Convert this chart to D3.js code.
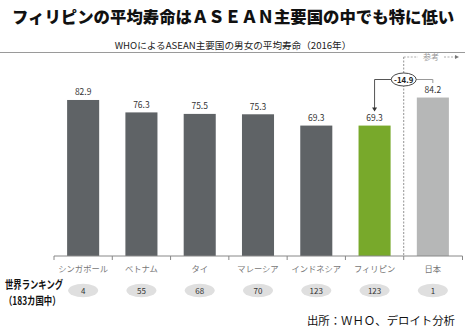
<!DOCTYPE html>
<html><head><meta charset="utf-8">
<script src="https://cdn.jsdelivr.net/npm/d3@7"></script>
<style>body{margin:0;background:#fff}svg{display:block;font-family:"Noto Sans CJK JP","Noto Sans",sans-serif}</style>
</head><body><svg id="c" width="465" height="331"></svg>
<script>
const categories = ["シンガポール","ベトナム","タイ","マレーシア","インドネシア","フィリピン","日本"];
const lifeExpectancy = [82.9, 76.3, 75.5, 75.3, 69.3, 69.3, 84.2];
const worldRanking = ["4","55","68","70","123","123","1"];
const gapLabel = "-14.9";
const colors = ["#5f6366","#5f6366","#5f6366","#5f6366","#5f6366","#78a92b","#b6b7b7"];

const svg = d3.select("#c");
const x = d3.scaleBand().domain(categories).range([54, 462]).paddingInner(0.45).paddingOuter(0.225);
const y = d3.scaleLinear().domain([0, 100]).range([256, 67.8]);

// title
svg.append("text").attr("x", 12).attr("y", 23).attr("font-size", 16.4).attr("font-weight", 900)
  .attr("fill", "#111").text("フィリピンの平均寿命はＡＳＥＡＮ主要国の中でも特に低い");
svg.append("text").attr("x", 233).attr("y", 48.5).attr("text-anchor", "middle").attr("font-size", 9.6)
  .attr("fill", "#222").text("WHOによるASEAN主要国の男女の平均寿命（2016年）");
svg.append("line").attr("x1", 0).attr("x2", 465).attr("y1", 52.5).attr("y2", 52.5).attr("stroke", "#9a9a9a").attr("stroke-width", 1);

// bars
svg.selectAll("rect.bar").data(categories).join("rect").attr("class", "bar")
  .attr("x", d => x(d)).attr("width", x.bandwidth())
  .attr("y", (d, i) => y(lifeExpectancy[i])).attr("height", (d, i) => y(0) - y(lifeExpectancy[i]))
  .attr("fill", (d, i) => colors[i]);
svg.selectAll("text.val").data(categories).join("text").attr("class", "val")
  .attr("x", d => x(d) + x.bandwidth() / 2).attr("y", (d, i) => y(lifeExpectancy[i]) - 4.5)
  .attr("text-anchor", "middle").attr("font-size", 8.5).attr("fill", "#333")
  .text((d, i) => lifeExpectancy[i].toFixed(1));

// axis
const axisG = svg.append("g").attr("transform", `translate(0,${y(0)})`);
axisG.append("line").attr("x1", 54).attr("x2", 462.5).attr("stroke", "#888");
const bounds = categories.map(d => x(d) - x.step() * x.paddingInner() / 2).concat([462.5]);
axisG.selectAll("line.t").data(bounds).join("line").attr("class", "t")
  .attr("x1", d => d).attr("x2", d => d).attr("y1", 0).attr("y2", 4).attr("stroke", "#888");
svg.selectAll("text.cat").data(categories).join("text").attr("class", "cat")
  .attr("x", d => x(d) + x.bandwidth() / 2).attr("y", 271.5).attr("text-anchor", "middle")
  .attr("font-size", 8.3).attr("fill", "#777").text(d => d);

// ranking
svg.selectAll("ellipse.rk").data(categories).join("ellipse").attr("class", "rk")
  .attr("cx", d => x(d) + x.bandwidth() / 2).attr("cy", 290.5).attr("rx", 15).attr("ry", 6.8).attr("fill", "#dfdfdf");
svg.selectAll("text.rk").data(categories).join("text").attr("class", "rk")
  .attr("x", d => x(d) + x.bandwidth() / 2).attr("y", 293.5).attr("text-anchor", "middle")
  .attr("font-size", 8).attr("fill", "#333").text((d, i) => worldRanking[i]);
svg.append("g").attr("transform", "translate(5,289) scale(0.76,1)")
  .append("text").attr("x", 0).attr("y", 0).attr("font-size", 11).attr("font-weight", 700)
  .attr("fill", "#111").text("世界ランキング");
svg.append("g").attr("transform", "translate(4,304.5) scale(0.76,1)")
  .append("text").attr("x", 0).attr("y", 0).attr("font-size", 11).attr("font-weight", 700)
  .attr("fill", "#111").text("（183カ国中）");

// reference separator
const sepX = (x("フィリピン") + x.bandwidth() + x("日本")) / 2;
svg.append("line").attr("x1", sepX).attr("x2", sepX).attr("y1", 57).attr("y2", y(0))
  .attr("stroke", "#777").attr("stroke-dasharray", "2,1.5").attr("stroke-width", 0.8);
svg.append("line").attr("x1", sepX).attr("x2", 418).attr("y1", 57).attr("y2", 57)
  .attr("stroke", "#999").attr("stroke-dasharray", "2,1.5").attr("stroke-width", 0.8);
svg.append("line").attr("x1", 444).attr("x2", 456).attr("y1", 57).attr("y2", 57)
  .attr("stroke", "#999").attr("stroke-dasharray", "2,1.5").attr("stroke-width", 0.8);
svg.append("path").attr("d", "M455,55 L459,57 L455,59 Z").attr("fill", "#777");
svg.append("text").attr("x", 431).attr("y", 60).attr("text-anchor", "middle").attr("font-size", 8)
  .attr("fill", "#999").text("参考");

// gap annotation
const phX = x("フィリピン") + x.bandwidth() / 2;
const jpX = x("日本") + x.bandwidth() / 2;
const gy = 79.5;
svg.append("path").attr("d", `M${sepX - 12},${gy} H${phX} V${y(69.3) - 17}`).attr("fill", "none")
  .attr("stroke", "#555").attr("stroke-width", 1);
svg.append("path").attr("d", `M${phX - 2.5},${y(69.3) - 18} L${phX + 2.5},${y(69.3) - 18} L${phX},${y(69.3) - 14} Z`).attr("fill", "#333");
svg.append("path").attr("d", `M${sepX + 12},${gy} H${jpX} V${gy + 3.5}`).attr("fill", "none")
  .attr("stroke", "#999").attr("stroke-width", 1);
svg.append("ellipse").attr("cx", sepX).attr("cy", gy).attr("rx", 12.5).attr("ry", 6.5)
  .attr("fill", "#fff").attr("stroke", "#333").attr("stroke-width", 0.9);
svg.append("text").attr("x", sepX).attr("y", gy + 3).attr("text-anchor", "middle").attr("font-size", 7.8)
  .attr("font-weight", 700).attr("fill", "#222").text(gapLabel);

// source
svg.append("text").attr("x", 455).attr("y", 324.5).attr("text-anchor", "end").attr("font-size", 11.4)
  .attr("fill", "#111").text("出所：ＷＨＯ、デロイト分析");
</script></body></html>
